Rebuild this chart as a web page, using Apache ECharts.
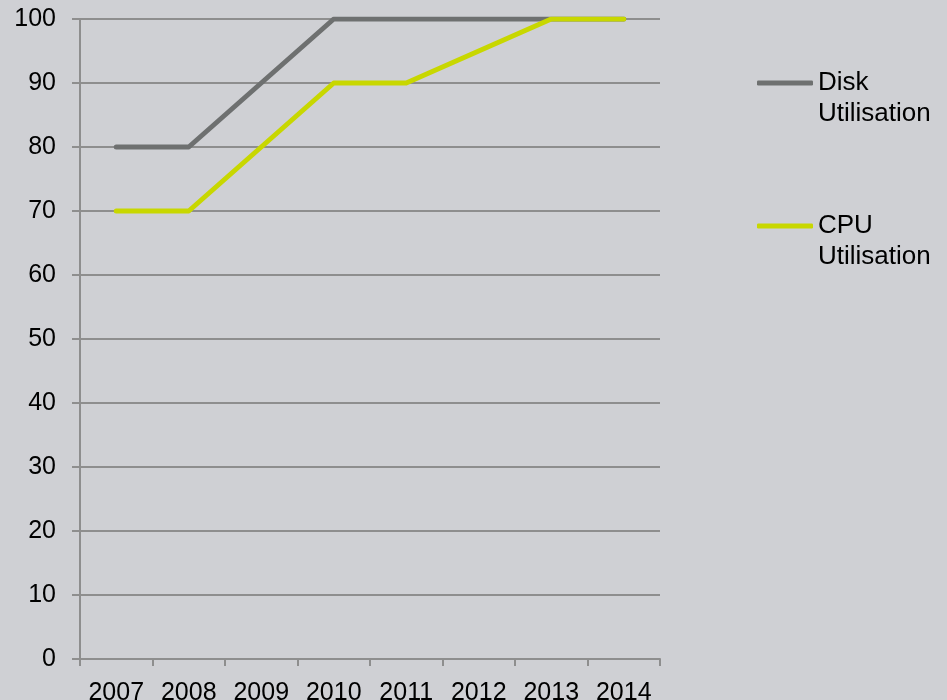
<!DOCTYPE html>
<html>
<head>
<meta charset="utf-8">
<script src="https://cdn.jsdelivr.net/npm/echarts@6/dist/echarts.min.js"></script>
<style>
html,body{margin:0;padding:0;background:#CFD0D4;}
#chart{width:947px;height:700px;}
</style>
</head>
<body>
<div id="chart"></div>
<script>
var categories = ['2007','2008','2009','2010','2011','2012','2013','2014'];
var diskName = 'Disk\nUtilisation';
var cpuName = 'CPU\nUtilisation';
var diskValues = [80, 80, 90, 100, 100, 100, 100, 100];
var cpuValues = [70, 70, 80, 90, 90, 95, 100, 100];
var yTicks = { min: 0, max: 100, interval: 10 };

var FONT = 'Liberation Sans, Arial, sans-serif';
var chart = echarts.init(document.getElementById('chart'), null, {renderer: 'canvas'});

function legendFor(name, centerY) {
  return {
    data: [name],
    left: 757,
    top: centerY - 46.5,
    orient: 'vertical',
    padding: 0,
    itemWidth: 56,
    itemHeight: 5,
    itemGap: 5,
    icon: 'roundRect',
    selectedMode: false,
    formatter: function (n) { return '\n' + n; },
    textStyle: {
      fontFamily: FONT,
      fontSize: 26,
      color: '#000',
      lineHeight: 31
    }
  };
}

chart.setOption({
  backgroundColor: '#CFD0D4',
  animation: false,
  grid: { left: 80, right: 287, top: 19, bottom: 41, containLabel: false, outerBoundsMode: 'none' },
  legend: [ legendFor(diskName, 83), legendFor(cpuName, 226) ],
  xAxis: {
    type: 'category',
    data: categories,
    boundaryGap: true,
    axisLine: { show: true, lineStyle: { color: '#8E8E8E', width: 2 } },
    axisTick: { show: true, interval: 0, length: 7, alignWithLabel: false, lineStyle: { color: '#8E8E8E', width: 2 } },
    axisLabel: { interval: 0, hideOverlap: false, fontFamily: FONT, fontSize: 25, color: '#000', margin: 22 },
    splitLine: { show: false }
  },
  yAxis: {
    type: 'value',
    min: yTicks.min,
    max: yTicks.max,
    interval: yTicks.interval,
    axisLine: { show: true, lineStyle: { color: '#8E8E8E', width: 2 } },
    axisTick: { show: true, length: 8, lineStyle: { color: '#8E8E8E', width: 2 } },
    axisLabel: { fontFamily: FONT, fontSize: 25, color: '#000', margin: 24 },
    splitLine: { show: true, lineStyle: { color: '#8E8E8E', width: 2 } }
  },
  series: [
    {
      name: diskName,
      type: 'line',
      data: diskValues,
      symbol: 'none',
      color: '#6E7070',
      lineStyle: { color: '#6E7070', width: 5, cap: 'round', join: 'round' }
    },
    {
      name: cpuName,
      type: 'line',
      data: cpuValues,
      symbol: 'none',
      color: '#C8D700',
      lineStyle: { color: '#C8D700', width: 5, cap: 'round', join: 'round' }
    }
  ]
});
</script>
</body>
</html>
